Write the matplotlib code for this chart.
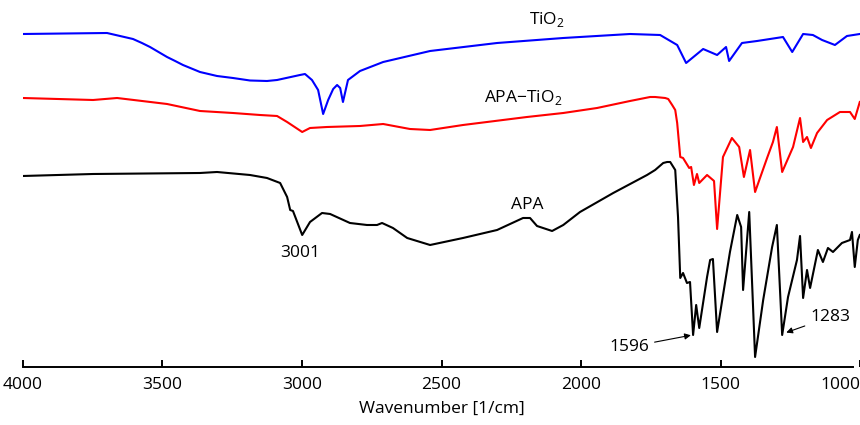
import numpy as np
import matplotlib
matplotlib.use("Agg")
import matplotlib.pyplot as plt

plt.rcParams['font.family'] = ['Open Sans', 'DejaVu Sans']
plt.rcParams['mathtext.fontset'] = 'custom'
plt.rcParams['mathtext.rm'] = 'Open Sans'

# TiO2 spectrum (wavenumber [1/cm], transmittance a.u., offset)
tio2_wn = [4000, 3698, 3605, 3573, 3544, 3483, 3454, 3426, 3365, 3304, 3247, 3186,
           3125, 3089, 3007, 2989, 2964, 2953, 2942, 2924, 2906, 2888, 2874, 2863,
           2853, 2835, 2792, 2709, 2541, 2301, 2064, 1825, 1717, 1656, 1624, 1563,
           1513, 1481, 1470, 1424, 1370, 1277, 1244, 1205, 1170, 1137, 1091, 1048, 1002]
tio2_t = [333, 334, 328, 324, 320, 310, 306, 302, 295, 291, 289, 286.5,
          286, 287, 292, 293, 287, 282, 277, 253, 267, 278, 282, 279,
          265, 287, 296, 305, 316, 324, 329, 333, 332, 322, 304, 318,
          312, 320, 306, 324, 326, 330, 315, 333, 332, 327, 322, 331, 333]

# APA-TiO2 spectrum
apatio2_wn = [4000, 3748, 3662, 3483, 3365, 3247, 3150, 3089, 3053, 2999, 2971, 2910,
              2792, 2709, 2613, 2541, 2423, 2194, 2064, 1943, 1825, 1753, 1735, 1699,
              1688, 1674, 1663, 1656, 1645, 1635, 1613, 1606, 1596, 1585, 1577, 1549,
              1528, 1524, 1513, 1492, 1460, 1434, 1417, 1395, 1377, 1334, 1313, 1299,
              1280, 1241, 1216, 1205, 1191, 1177, 1155, 1119, 1073, 1037, 1020, 1002]
apatio2_t = [269, 267, 269, 263, 256, 254, 252, 251, 245, 235, 239, 240,
             241, 243, 238, 237, 242, 250, 254, 259, 266, 270, 270, 269,
             268, 262, 257, 244, 210, 209, 199, 200, 182, 193, 184, 192,
             187, 186, 138, 210, 229, 220, 190, 217, 175, 209, 225, 240,
             195, 220, 249, 225, 230, 219, 234, 247, 255, 255, 248, 265]

# APA spectrum
apa_wn = [4000, 3748, 3365, 3304, 3186, 3125, 3078, 3053, 3042, 3032, 2999, 2971,
          2928, 2899, 2828, 2767, 2731, 2713, 2674, 2623, 2541, 2423, 2301, 2208,
          2183, 2158, 2104, 2064, 2004, 1885, 1764, 1735, 1706, 1692, 1681, 1663,
          1653, 1645, 1635, 1621, 1610, 1599, 1588, 1577, 1549, 1538, 1528, 1513,
          1467, 1441, 1427, 1420, 1398, 1377, 1348, 1316, 1299, 1280, 1259, 1227,
          1216, 1205, 1191, 1180, 1152, 1134, 1116, 1098, 1066, 1037, 1030, 1020,
          1009, 1002]
apa_t = [191, 193, 194, 195, 192, 189, 184, 170, 157, 156, 132, 145,
         154, 153, 144, 142, 142, 144, 139, 129, 122, 129, 137, 149,
         149, 141, 136, 142, 155, 174, 192, 197, 204, 205, 205, 197,
         150, 89, 94, 84, 85, 32, 62, 39, 90, 107, 108, 35,
         115, 152, 140, 77, 155, 10, 67, 120, 142, 32, 70, 107,
         131, 69, 97, 79, 117, 105, 119, 115, 124, 127, 135, 100,
         127, 132]

xticks = [4000, 3500, 3000, 2500, 2000, 1500, 1000]

fig = plt.figure(figsize=(8.6, 4.25), dpi=100)
ax = fig.add_axes([0.0264, 0.1365, 0.974, 0.8635])

style = dict(lw=1.5, solid_joinstyle='round')
ax.plot(tio2_wn, tio2_t, color='#0000ff', **style)
ax.plot(apatio2_wn, apatio2_t, color='#ff0000', **style)
ax.plot(apa_wn, apa_t, color='black', **style)

ax.set_xlim(4000, 1000)
ax.set_ylim(0, 367)

for s in ['top', 'left', 'right']:
    ax.spines[s].set_visible(False)
ax.spines['bottom'].set_linewidth(1.4)
ax.spines['bottom'].set_bounds(4000, 1028)
ax.set_yticks([])
ax.set_xticks(xticks)
ax.set_xticklabels([str(t) for t in xticks], fontsize=12.5)
ax.get_xticklabels()[-1].set_horizontalalignment('right')
ax.tick_params(axis='x', direction='in', length=5, width=1.4, pad=7)
ax.set_xlabel('Wavenumber [1/cm]', fontsize=12.5, labelpad=6)

fs = 12.5
ax.text(2122, 347, r'TiO$_\mathregular{2}$', ha='center', va='center', fontsize=fs)
ax.text(2208, 269, r'APA$-$TiO$_\mathregular{2}$', ha='center', va='center', fontsize=fs)
ax.text(2194, 162, 'APA', ha='center', va='center', fontsize=fs)
ax.text(3007, 114, '3001', ha='center', va='center', fontsize=fs)

arrow = dict(arrowstyle='-|>', color='black', lw=0.8, mutation_scale=9,
             shrinkA=2, shrinkB=1)
ax.annotate('1596', xy=(1602, 32), xytext=(1828, 20), ha='center', va='center',
            fontsize=fs, arrowprops=arrow)
ax.annotate('1283', xy=(1270, 34), xytext=(1108, 50), ha='center', va='center',
            fontsize=fs, arrowprops=arrow)

fig.savefig('out.png', dpi=100)
